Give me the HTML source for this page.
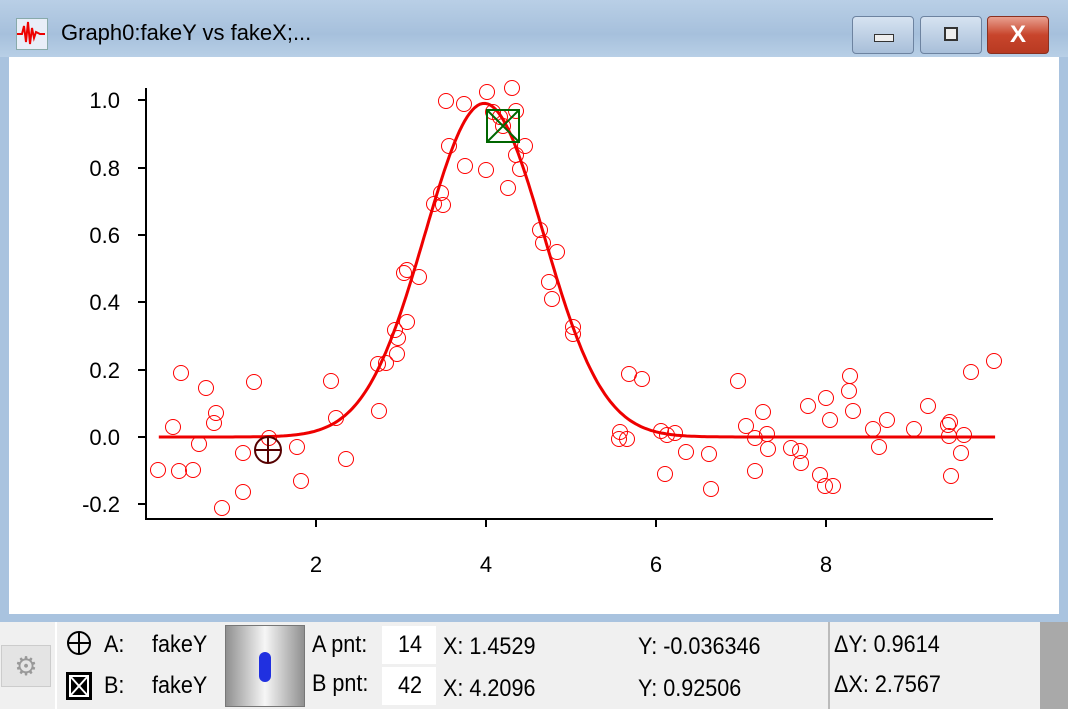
<!DOCTYPE html>
<html><head><style>
body{margin:0;width:1068px;height:709px;overflow:hidden;background:#a9c3df;font-family:"Liberation Sans",sans-serif;position:relative}
.t{position:absolute;font-size:24px;color:#000;transform:scaleX(0.9);transform-origin:left top}
.btn{position:absolute;top:16px;height:36px;border:1px solid #6d83a0;border-radius:4px;background:linear-gradient(#d6e3f1,#a8bfd9)}
</style></head><body>
<div style="position:absolute;left:0;top:0;width:1068px;height:57px;background:linear-gradient(#b9cfe6,#a6c0dc 60%,#b8cfe6)"></div>
<div style="position:absolute;left:16px;top:18px;width:30px;height:30px;background:#e8eef8;border:1px solid #8aa"></div>
<svg style="position:absolute;left:16px;top:18px" width="30" height="30"><polyline points="1,16 6,16 8,8 10,24 12,4 14,26 16,10 18,20 20,14 24,16 29,16" fill="none" stroke="#e00" stroke-width="2"/></svg>
<div class="t" style="left:61px;top:20px;font-size:22px;transform:none">Graph0:fakeY vs fakeX;...</div>
<div class="btn" style="left:852px;width:60px"><div style="position:absolute;left:21px;top:17px;width:18px;height:6px;background:#eee;border:1px solid #333"></div></div>
<div class="btn" style="left:920px;width:60px"><div style="position:absolute;left:23px;top:10px;width:10px;height:10px;background:#eee;border:2px solid #333"></div></div>
<div class="btn" style="left:987px;width:60px;background:linear-gradient(#e8a090,#c8452c 50%,#b83a22);border-color:#8a3020;color:#fff;font-weight:bold;font-size:24px;text-align:center;line-height:36px">X</div>
<div style="position:absolute;left:9px;top:57px;width:1050px;height:557px;background:#fff"></div>
<div style="position:absolute;left:0;top:622px;width:1040px;height:87px;background:#f0f0f0"></div>
<div style="position:absolute;left:1040px;top:622px;width:28px;height:87px;background:#a9a9a9"></div>
<svg style="position:absolute;left:0;top:0" width="1068" height="620" font-family="Liberation Sans" font-size="22">
<g stroke="#000" stroke-width="2">
<line x1="146" y1="88" x2="146" y2="519"/><line x1="145" y1="519" x2="993" y2="519"/>
<line x1="138" y1="100" x2="146" y2="100"/><line x1="138" y1="168" x2="146" y2="168"/><line x1="138" y1="235" x2="146" y2="235"/><line x1="138" y1="302" x2="146" y2="302"/><line x1="138" y1="370" x2="146" y2="370"/><line x1="138" y1="437" x2="146" y2="437"/><line x1="138" y1="504" x2="146" y2="504"/>
<line x1="316" y1="519" x2="316" y2="527"/><line x1="486" y1="519" x2="486" y2="527"/><line x1="656" y1="519" x2="656" y2="527"/><line x1="826" y1="519" x2="826" y2="527"/>
</g>
<g text-anchor="end"><text x="120" y="108">1.0</text><text x="120" y="176">0.8</text><text x="120" y="243">0.6</text><text x="120" y="310">0.4</text><text x="120" y="378">0.2</text><text x="120" y="445">0.0</text><text x="120" y="512">-0.2</text></g>
<g text-anchor="middle"><text x="316" y="572">2</text><text x="486" y="572">4</text><text x="656" y="572">6</text><text x="826" y="572">8</text></g>
<g id="pts" fill="none" stroke="#f00" stroke-width="1"></g>
<polyline id="cv" fill="none" stroke="#e00" stroke-width="3"/>
<g stroke="#500" stroke-width="2" fill="none"><circle cx="268" cy="450" r="13"/><line x1="255" y1="450" x2="281" y2="450"/><line x1="268" y1="437" x2="268" y2="463"/></g>
<g stroke="#060" stroke-width="2" fill="none"><rect x="487" y="110" width="32" height="32"/><line x1="487" y1="110" x2="519" y2="142"/><line x1="519" y1="110" x2="487" y2="142"/></g>
</svg>
<script>
var p=[[158,470],[173,427],[181,373],[179,471],[193,470],[199,444],[206,388],[214,423],[216,413],[222,508],[243,492],[243,453],[254,382],[269,438],[297,447],[301,481],[331,381],[336,418],[346,459],[379,411],[378,364],[386,363],[395,330],[397,354],[398,338],[404,273],[407,322],[407,270],[419,277],[434,204],[441,193],[443,205],[446,101],[449,146],[464,104],[465,166],[486,170],[487,92],[493,112],[500,117],[503,126],[508,188],[512,88],[516,111],[516,155],[520,169],[525,146],[540,230],[543,243],[549,282],[552,299],[557,252],[573,327],[573,334],[620,432],[619,439],[627,439],[629,374],[642,379],[661,431],[665,474],[667,435],[675,433],[686,452],[709,454],[711,489],[738,381],[746,426],[755,438],[755,471],[763,412],[767,434],[768,449],[791,448],[800,451],[801,463],[808,406],[820,475],[825,486],[826,398],[833,486],[830,420],[849,391],[850,376],[853,411],[873,429],[879,447],[887,420],[914,429],[928,406],[948,425],[949,436],[950,422],[951,476],[961,453],[964,435],[971,372],[994,361]];
var g=document.getElementById('pts'),s='';p.forEach(function(a){s+='<circle cx="'+a[0]+'" cy="'+a[1]+'" r="7.5"/>'});g.innerHTML=s;
var q=[];for(var x=0.15;x<=9.99;x+=0.03){var y=0.99*Math.exp(-Math.pow(x-3.98,2)/(2*0.7*0.7));q.push((146+85*x).toFixed(1)+','+(437-337*y).toFixed(1))}
document.getElementById('cv').setAttribute('points',q.join(' '));
</script>
<div style="position:absolute;left:1px;top:645px;width:48px;height:40px;background:#e4e4e4;border:1px solid #ccc;color:#999;font-size:26px;text-align:center;line-height:40px">⚙</div>
<div style="position:absolute;left:55px;top:622px;width:2px;height:87px;background:#fff"></div>
<svg style="position:absolute;left:64px;top:628px" width="30" height="78"><g stroke="#000" stroke-width="2" fill="none"><circle cx="15" cy="15" r="11"/><line x1="4" y1="15" x2="26" y2="15"/><line x1="15" y1="4" x2="15" y2="26"/></g><rect x="2" y="44" width="26" height="28" fill="#000"/><g stroke="#fff" stroke-width="2" fill="none"><rect x="6" y="48" width="18" height="20"/><line x1="6" y1="48" x2="24" y2="68"/><line x1="24" y1="48" x2="6" y2="68"/></g></svg>
<div class="t" style="left:104px;top:631px">A:</div><div class="t" style="left:152px;top:631px">fakeY</div>
<div class="t" style="left:104px;top:672px">B:</div><div class="t" style="left:152px;top:672px">fakeY</div>
<div style="position:absolute;left:225px;top:625px;width:78px;height:80px;border:1px solid #777;background:linear-gradient(90deg,#909090,#f6f6f6 50%,#909090)"><div style="position:absolute;left:33px;top:26px;width:12px;height:30px;border-radius:6px;background:#2030e0"></div></div>
<div class="t" style="left:312px;top:631px">A pnt:</div><div class="t" style="left:312px;top:670px">B pnt:</div>
<div style="position:absolute;left:382px;top:626px;width:54px;height:38px;background:#fff"></div><div class="t" style="left:398px;top:631px">14</div>
<div style="position:absolute;left:382px;top:667px;width:54px;height:38px;background:#fff"></div><div class="t" style="left:398px;top:672px">42</div>
<div class="t" style="left:443px;top:633px">X: 1.4529</div><div class="t" style="left:443px;top:675px">X: 4.2096</div>
<div class="t" style="left:638px;top:633px">Y: -0.036346</div><div class="t" style="left:638px;top:675px">Y: 0.92506</div>
<div style="position:absolute;left:828px;top:622px;width:2px;height:87px;background:#bbb"></div>
<div class="t" style="left:834px;top:631px">ΔY: 0.9614</div><div class="t" style="left:834px;top:671px">ΔX: 2.7567</div>
</body></html>
